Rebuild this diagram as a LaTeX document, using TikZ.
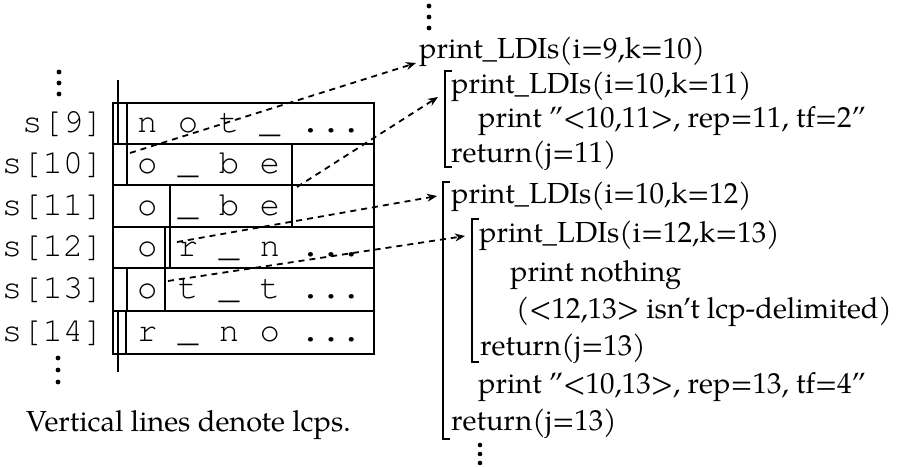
\documentclass[tikz,border=0pt]{standalone}
\usepackage{fontspec}
\setmainfont{texgyrepagella-regular.otf}
\setmonofont{texgyrecursor-regular.otf}
\usetikzlibrary{arrows.meta}
\begin{document}
\begin{tikzpicture}[x=1pt,y=-1pt,
  tl/.style={line width=1.8pt},
  mono/.style={font=\fontsize{34}{34}\selectfont\ttfamily, inner sep=0pt},
  lbl/.style={mono, anchor=base east},
  rowtext/.style={mono, anchor=base west},
  code/.style={font=\fontsize{29}{29}\selectfont, inner sep=0pt, anchor=base west},
  vdot/.style={fill=black},
  darrow/.style={line width=1.8pt, dash pattern=on 6pt off 5pt, -{Stealth[length=10pt,width=8pt]}},
  brk/.style={line width=1.8pt},
]
\useasboundingbox (0,0) rectangle (899,466);

% ---- left vertical ellipses
\foreach \yy in {72,83,94} \fill[vdot] (59,\yy) circle (2.4);
\foreach \yy in {358,370,382} \fill[vdot] (58,\yy) circle (2.4);

% ---- table frame
\draw[tl] (113,103) rectangle (374,354);
\foreach \yy in {144,185,227,268,311} \draw[tl] (113,\yy) -- (374,\yy);

% ---- lcp lines
\draw[tl] (118,80) -- (118,144);
\draw[tl] (127,103) -- (127,185);
\draw[tl] (292,144) -- (292,227);
\draw[tl] (170,185) -- (170,268);
\draw[tl] (165,227) -- (165,311);
\draw[tl] (127,268) -- (127,311);
\draw[tl] (118,311) -- (118,372);
\draw[tl] (126,311) -- (126,354);

% ---- row labels
\node[lbl] (l9)  at (104,132) {s[9]};
\node[lbl] (l10) at (104,173) {s[10]};
\node[lbl] (l11) at (104,215) {s[11]};
\node[lbl] (l12) at (104,256) {s[12]};
\node[lbl] (l13) at (104,298) {s[13]};
\node[lbl] (l14) at (104,341) {s[14]};

% ---- row contents
\node[rowtext] (r9)  at (137,132) {n o t \_ ...};
\node[rowtext] (r10) at (137,173) {o \_ b e};
\node[rowtext] (r11) at (137,215) {o \_ b e};
\node[rowtext] (r12) at (137,256) {o r \_ n ...};
\node[rowtext] (r13) at (137,298) {o t \_ t ...};
\node[rowtext] (r14) at (137,341) {r \_ n o ...};

% ---- caption
\node[code] (cap) at (26,431) {Vertical lines denote lcps.};

% ---- right: call trace
\foreach \yy in {6,17,28} \fill[vdot] (429,\yy) circle (2.4);
\node[code] (L1)  at (419,58)  {print\_LDIs(i=9,k=10)};
\node[code] (L2)  at (451,93)  {print\_LDIs(i=10,k=11)};
\node[code] (L3)  at (478,127) {print "<10,11>, rep=11, tf=2"};
\node[code] (L4)  at (451,162) {return(j=11)};
\node[code] (L5)  at (451,203) {print\_LDIs(i=10,k=12)};
\node[code] (L6)  at (479,242) {print\_LDIs(i=12,k=13)};
\node[code] (L7)  at (510,281) {print nothing};
\node[code] (L8)  at (516,318) {(<12,13> isn't lcp-delimited)};
\node[code] (L9)  at (480,355) {return(j=13)};
\node[code] (L10) at (478,393) {print "<10,13>, rep=13, tf=4"};
\node[code] (L11) at (451,430) {return(j=13)};
\foreach \yy in {445,454,463} \fill[vdot] (480,\yy) circle (2.3);

% ---- brackets
\draw[brk] (452,71) -- (445,71) -- (445,167) -- (452,167);
\draw[brk] (450,182) -- (443,182) -- (443,439) -- (450,439);
\draw[brk] (479,219) -- (472,219) -- (472,362) -- (479,362);

% ---- dashed arrows
\coordinate (s1) at (130,153);
\coordinate (e1) at (416,63);
\coordinate (s2) at (297,187);
\coordinate (e2) at (438,97);
\coordinate (s3) at (177,242);
\coordinate (e3) at (437,196);
\coordinate (s4) at (168,281);
\coordinate (e4) at (465,236);
\draw[darrow] (s1) -- (e1);
\draw[darrow] (s2) -- (e2);
\draw[darrow] (s3) -- (e3);
\draw[darrow] (s4) -- (e4);
\end{tikzpicture}
\end{document}
